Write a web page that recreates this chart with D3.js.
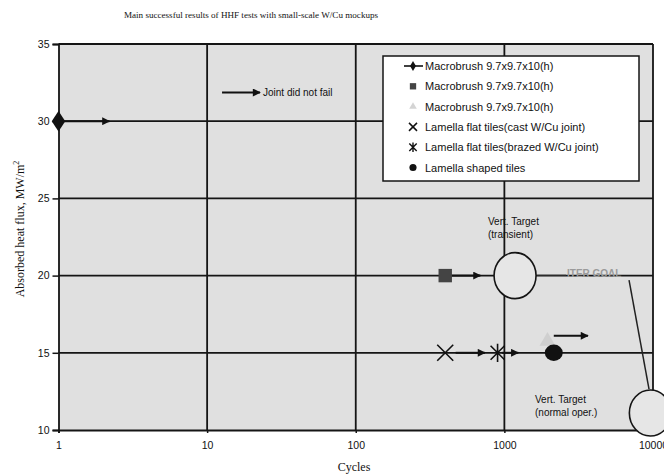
<!DOCTYPE html>
<html><head><meta charset="utf-8">
<script src="https://cdn.jsdelivr.net/npm/d3@7"></script>
<style>body{margin:0;background:#fff}svg{display:block}</style>
</head><body>
<svg id="c" width="664" height="474"></svg>
<script>
// ---- data ----
const title = "Main successful results of HHF tests with small-scale W/Cu mockups";
const xTicks = [1, 10, 100, 1000, 10000];
const yTicks = [10, 15, 20, 25, 30, 35];
const seriesNames = [
  "Macrobrush 9.7x9.7x10(h)",
  "Macrobrush 9.7x9.7x10(h)",
  "Macrobrush 9.7x9.7x10(h)",
  "Lamella flat tiles(cast W/Cu joint)",
  "Lamella flat tiles(brazed W/Cu joint)",
  "Lamella shaped tiles"
];
const seriesSymbols = ["diamond", "square", "triangle", "cross", "asterisk", "dot"];
// [cycles, heat flux]
const diamondPts = [[1, 30]];
const squarePts = [[400, 20]];
const trianglePts = [[1950, 15.75]];
const crossPts = [[400, 15]];
const asteriskPts = [[900, 15]];
const dotPts = [[2150, 15]];
// arrows "joint did not fail": [x0, y0, x1, y1]
const arrows = [
  [1.05, 30, 2.2, 30],
  [430, 20, 690, 20],
  [470, 15, 740, 15],
  [960, 15, 1240, 15],
  [2150, 16.1, 3650, 16.1]
];
const legendArrow = [12.6, 22.7];
const targetTransient = [1180, 20];
const targetNormal = [9600, 11.1];
const iterGoalLine = [[6900, 19.7], [9400, 12.65]];

// ---- scales ----
const svg = d3.select("#c");
const x = d3.scaleLog().domain([1, 10000]).range([58.5, 653]);
const y = d3.scaleLinear().domain([10, 35]).range([430, 44]);
const sans = "'Liberation Sans', Arial, sans-serif";
const serif = "'Liberation Serif', 'Times New Roman', serif";

svg.append("defs").append("marker")
  .attr("id", "ah").attr("viewBox", "0 0 10 10").attr("refX", 9).attr("refY", 5)
  .attr("markerWidth", 5).attr("markerHeight", 4).attr("markerUnits", "strokeWidth")
  .attr("orient", "auto")
  .append("path").attr("d", "M0,0L10,5L0,10Z").attr("fill", "#111");

// plot background
svg.append("rect").attr("x", x(1)).attr("y", y(35))
  .attr("width", x(10000) - x(1)).attr("height", y(10) - y(35)).attr("fill", "#e0e0e0");

// grid
const g = svg.append("g").attr("stroke", "#151515").attr("stroke-width", 1.8);
g.selectAll(".vg").data(xTicks.slice(1)).join("line")
  .attr("x1", d => x(d)).attr("x2", d => x(d)).attr("y1", y(35)).attr("y2", y(10));
g.selectAll(".hg").data(yTicks.slice(1)).join("line")
  .attr("x1", x(1)).attr("x2", x(10000)).attr("y1", d => y(d)).attr("y2", d => y(d));

// axes
const ya = svg.append("g").attr("transform", `translate(${x(1)},0)`)
  .call(d3.axisLeft(y).tickValues(yTicks).tickSize(6).tickPadding(3).tickFormat(d3.format("d")));
ya.select(".domain").attr("stroke", "#151515").attr("stroke-width", 1.8);
ya.selectAll(".tick line").attr("stroke", "#151515").attr("stroke-width", 1.5);
ya.selectAll("text").attr("font-family", sans).attr("font-size", 10.5).attr("fill", "#111");

const xa = svg.append("g").attr("transform", `translate(0,${y(10)})`)
  .call(d3.axisBottom(x).tickValues(xTicks).tickSize(3).tickPadding(9).tickFormat(d3.format("d")));
xa.select(".domain").attr("stroke", "#151515").attr("stroke-width", 1.8);
xa.selectAll(".tick line").attr("stroke", "#151515").attr("stroke-width", 1.5);
xa.selectAll("text").attr("font-family", sans).attr("font-size", 10.5).attr("fill", "#111");

// title & axis labels
svg.append("text").attr("x", 251).attr("y", 18).attr("text-anchor", "middle")
  .attr("font-family", serif).attr("font-size", 9.1).attr("fill", "#111").text(title);
svg.append("text").attr("x", 354).attr("y", 471).attr("text-anchor", "middle")
  .attr("font-family", serif).attr("font-size", 12).attr("fill", "#111").text("Cycles");
const yl = svg.append("text").attr("transform", "translate(24,229) rotate(-90)")
  .attr("text-anchor", "middle").attr("font-family", serif).attr("font-size", 12).attr("fill", "#111");
yl.append("tspan").text("Absorbed heat flux, MW/m");
yl.append("tspan").attr("dy", -5).attr("font-size", 8).text("2");

// ITER goal line and targets
svg.append("line").attr("x1", x(targetTransient[0]) + 22).attr("x2", 566)
  .attr("y1", y(20) - 1).attr("y2", y(20) - 1).attr("stroke", "#888").attr("stroke-width", 1.2);
svg.append("text").attr("x", 567).attr("y", y(20) + 1).attr("font-family", sans)
  .attr("font-size", 10).attr("font-weight", "bold").attr("fill", "#9a9a9a").text("ITER GOAL");
svg.append("line").attr("x1", x(iterGoalLine[0][0])).attr("y1", y(iterGoalLine[0][1]))
  .attr("x2", x(iterGoalLine[1][0])).attr("y2", y(iterGoalLine[1][1]))
  .attr("stroke", "#222").attr("stroke-width", 1.5);

svg.selectAll(".tgt").data([targetTransient, targetNormal]).join("ellipse")
  .attr("cx", d => x(d[0])).attr("cy", d => y(d[1])).attr("rx", 21).attr("ry", 23)
  .attr("fill", "#e6e6e6").attr("stroke", "#151515").attr("stroke-width", 1.6);

const note = (lines, px, py) => {
  const t = svg.append("text").attr("font-family", sans).attr("font-size", 10).attr("fill", "#111");
  lines.forEach((l, i) => t.append("tspan").attr("x", px).attr("y", py + i * 12.5).text(l));
};
note(["Vert. Target", "(transient)"], 488, 225);
note(["Vert. Target", "(normal oper.)"], 535, 403);

// triangle (faint)
const sym = {
  diamond: d3.symbol(d3.symbolDiamond, 120),
  square: d3.symbol(d3.symbolSquare, 180),
  triangle: d3.symbol(d3.symbolTriangle, 110),
  dot: d3.symbol(d3.symbolCircle, 210)
};
svg.selectAll(".tri").data(trianglePts).join("path")
  .attr("transform", d => `translate(${x(d[0])},${y(d[1])})`).attr("d", sym.triangle()).attr("fill", "#cfcfcf");

// arrows
svg.selectAll(".arr").data(arrows).join("line")
  .attr("x1", d => x(d[0])).attr("y1", d => y(d[1])).attr("x2", d => x(d[2])).attr("y2", d => y(d[3]))
  .attr("stroke", "#111").attr("stroke-width", 2).attr("marker-end", "url(#ah)");

// markers
svg.selectAll(".dia").data(diamondPts).join("path")
  .attr("transform", d => `translate(${x(d[0])},${y(d[1])}) scale(1.15,1)`).attr("d", sym.diamond()).attr("fill", "#111");
svg.selectAll(".sq").data(squarePts).join("path")
  .attr("transform", d => `translate(${x(d[0])},${y(d[1])})`).attr("d", sym.square()).attr("fill", "#444");
svg.selectAll(".dot").data(dotPts).join("path")
  .attr("transform", d => `translate(${x(d[0])},${y(d[1])}) scale(1.1,1)`).attr("d", sym.dot()).attr("fill", "#111");
const crossPath = r => `M${-r},${-r}L${r},${r}M${-r},${r}L${r},${-r}`;
const asterPath = r => `M${-r},${-r}L${r},${r}M${-r},${r}L${r},${-r}M0,${-r * 1.3}L0,${r * 1.3}`;
svg.selectAll(".crs").data(crossPts).join("path")
  .attr("transform", d => `translate(${x(d[0])},${y(d[1])})`).attr("d", crossPath(8))
  .attr("stroke", "#111").attr("stroke-width", 1.6).attr("fill", "none");
svg.selectAll(".ast").data(asteriskPts).join("path")
  .attr("transform", d => `translate(${x(d[0])},${y(d[1])})`).attr("d", asterPath(7))
  .attr("stroke", "#111").attr("stroke-width", 1.6).attr("fill", "none");

// "Joint did not fail" key
svg.append("line").attr("x1", x(legendArrow[0])).attr("y1", 92.5).attr("x2", x(legendArrow[1])).attr("y2", 92.5)
  .attr("stroke", "#111").attr("stroke-width", 2).attr("marker-end", "url(#ah)");
svg.append("text").attr("x", 263).attr("y", 96).attr("font-family", sans).attr("font-size", 10)
  .attr("fill", "#111").text("Joint did not fail");

// legend
const lg = svg.append("g");
lg.append("rect").attr("x", 383).attr("y", 56).attr("width", 256).attr("height", 125)
  .attr("fill", "#fff").attr("stroke", "#151515").attr("stroke-width", 1.5);
const rows = lg.selectAll(".row").data(seriesNames.map((n, i) => ({ n, s: seriesSymbols[i] })))
  .join("g").attr("transform", (d, i) => `translate(413,${66 + i * 20.3})`);
rows.append("text").attr("x", 12).attr("y", 4).attr("font-family", sans).attr("font-size", 11)
  .attr("fill", "#111").text(d => d.n);
rows.each(function (d) {
  const r = d3.select(this);
  if (d.s === "diamond") {
    r.append("line").attr("x1", -9).attr("x2", 10).attr("stroke", "#111").attr("stroke-width", 1.6);
    r.append("path").attr("d", d3.symbol(d3.symbolDiamond, 30)()).attr("fill", "#111");
  } else if (d.s === "square") {
    r.append("path").attr("d", d3.symbol(d3.symbolSquare, 40)()).attr("fill", "#444");
  } else if (d.s === "triangle") {
    r.append("path").attr("d", d3.symbol(d3.symbolTriangle, 25)()).attr("fill", "#d4d4d4");
  } else if (d.s === "cross") {
    r.append("path").attr("d", crossPath(4)).attr("stroke", "#111").attr("stroke-width", 1.5).attr("fill", "none");
  } else if (d.s === "asterisk") {
    r.append("path").attr("d", asterPath(3.7)).attr("stroke", "#111").attr("stroke-width", 1.4).attr("fill", "none");
  } else {
    r.append("path").attr("d", d3.symbol(d3.symbolCircle, 40)()).attr("fill", "#111");
  }
});
</script>
</body></html>
